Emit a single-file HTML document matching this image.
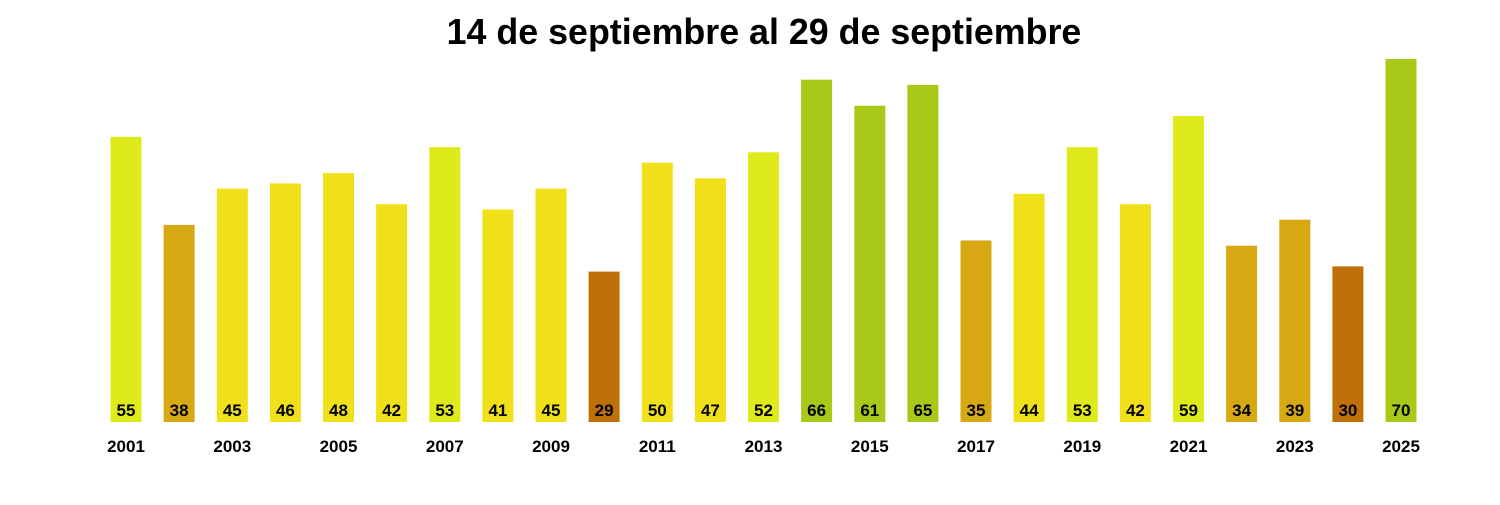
<!DOCTYPE html>
<html><head><meta charset="utf-8"><style>
body{margin:0;background:#fff;}
text{font-family:"Liberation Sans",Arial,sans-serif;font-weight:bold;}
</style></head><body>
<svg width="1500" height="500" xmlns="http://www.w3.org/2000/svg">
<rect width="1500" height="500" fill="#fff"/>
<text x="764" y="44" text-anchor="middle" font-size="35.8">14 de septiembre al 29 de septiembre</text>
<g>
<rect x="110.5" y="136.8" width="31" height="285.2" fill="#dfea1a"/>
<rect x="163.6" y="224.9" width="31" height="197.1" fill="#d6a811"/>
<rect x="216.8" y="188.6" width="31" height="233.4" fill="#f0e01a"/>
<rect x="269.9" y="183.4" width="31" height="238.6" fill="#f0e01a"/>
<rect x="323.0" y="173.1" width="31" height="248.9" fill="#f0e01a"/>
<rect x="376.1" y="204.2" width="31" height="217.8" fill="#f0e01a"/>
<rect x="429.3" y="147.1" width="31" height="274.9" fill="#dfea1a"/>
<rect x="482.4" y="209.4" width="31" height="212.6" fill="#f0e01a"/>
<rect x="535.5" y="188.6" width="31" height="233.4" fill="#f0e01a"/>
<rect x="588.6" y="271.6" width="31" height="150.4" fill="#bf7009"/>
<rect x="641.8" y="162.7" width="31" height="259.3" fill="#f0e01a"/>
<rect x="694.9" y="178.3" width="31" height="243.7" fill="#f0e01a"/>
<rect x="748.0" y="152.3" width="31" height="269.7" fill="#dfea1a"/>
<rect x="801.1" y="79.7" width="31" height="342.3" fill="#a8c918"/>
<rect x="854.3" y="105.7" width="31" height="316.3" fill="#a8c918"/>
<rect x="907.4" y="84.9" width="31" height="337.1" fill="#a8c918"/>
<rect x="960.5" y="240.5" width="31" height="181.5" fill="#d6a811"/>
<rect x="1013.6" y="193.8" width="31" height="228.2" fill="#f0e01a"/>
<rect x="1066.8" y="147.1" width="31" height="274.9" fill="#dfea1a"/>
<rect x="1119.9" y="204.2" width="31" height="217.8" fill="#f0e01a"/>
<rect x="1173.0" y="116.0" width="31" height="306.0" fill="#dfea1a"/>
<rect x="1226.1" y="245.7" width="31" height="176.3" fill="#d6a811"/>
<rect x="1279.3" y="219.7" width="31" height="202.3" fill="#d6a811"/>
<rect x="1332.4" y="266.4" width="31" height="155.6" fill="#bf7009"/>
<rect x="1385.5" y="59" width="31" height="363" fill="#a8c918"/>
</g>
<g font-size="17" text-anchor="middle">
<text x="126" y="416">55</text><text x="179.1" y="416">38</text><text x="232.3" y="416">45</text><text x="285.4" y="416">46</text><text x="338.5" y="416">48</text><text x="391.6" y="416">42</text><text x="444.8" y="416">53</text><text x="497.9" y="416">41</text><text x="551" y="416">45</text><text x="604.1" y="416">29</text><text x="657.3" y="416">50</text><text x="710.4" y="416">47</text><text x="763.5" y="416">52</text><text x="816.6" y="416">66</text><text x="869.8" y="416">61</text><text x="922.9" y="416">65</text><text x="976" y="416">35</text><text x="1029.1" y="416">44</text><text x="1082.3" y="416">53</text><text x="1135.4" y="416">42</text><text x="1188.5" y="416">59</text><text x="1241.6" y="416">34</text><text x="1294.8" y="416">39</text><text x="1347.9" y="416">30</text><text x="1401" y="416">70</text>
</g>
<g font-size="17" text-anchor="middle">
<text x="126" y="452">2001</text><text x="232.3" y="452">2003</text><text x="338.5" y="452">2005</text><text x="444.8" y="452">2007</text><text x="551" y="452">2009</text><text x="657.3" y="452">2011</text><text x="763.5" y="452">2013</text><text x="869.8" y="452">2015</text><text x="976" y="452">2017</text><text x="1082.3" y="452">2019</text><text x="1188.5" y="452">2021</text><text x="1294.8" y="452">2023</text><text x="1401" y="452">2025</text>
</g>
</svg>
</body></html>
